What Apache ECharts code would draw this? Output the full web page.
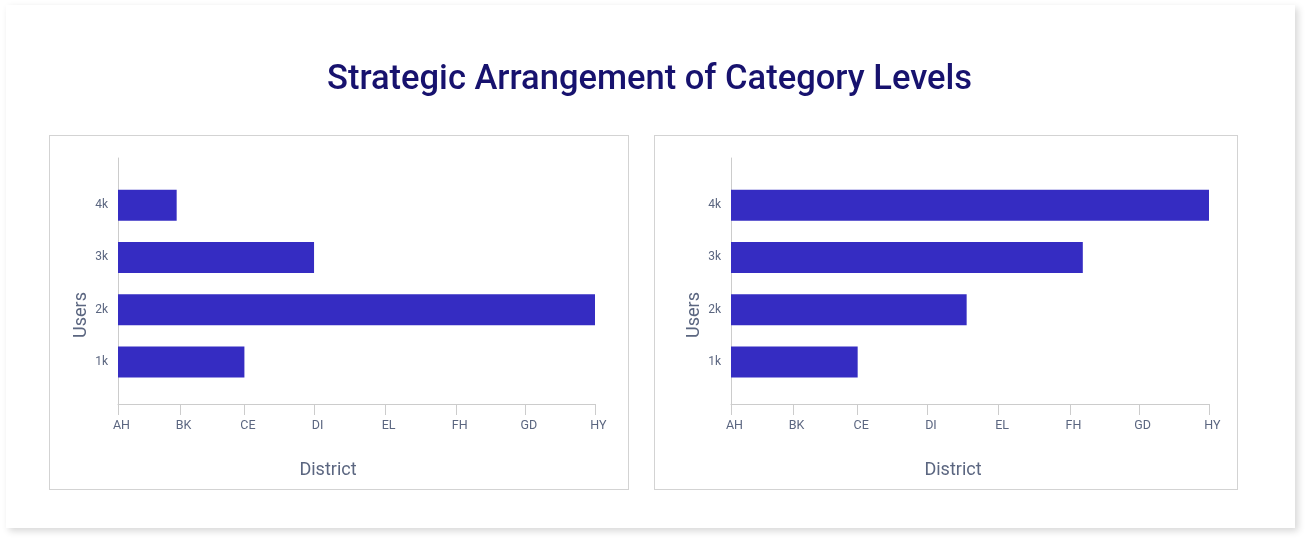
<!DOCTYPE html>
<html>
<head>
<meta charset="utf-8">
<script src="https://cdn.jsdelivr.net/npm/echarts@6/dist/echarts.min.js"></script>
<style>
  html, body { margin: 0; padding: 0; background: #ffffff; width: 1310px; height: 542px; overflow: hidden; }
  #card { position: absolute; left: 6px; top: 5px; width: 1289px; height: 523px; background: #fff;
          box-shadow: 3px 3px 7px rgba(0,0,0,0.16); }
  .panel { position: absolute; top: 135px; height: 355px; border: 1px solid #d3d3d3; box-sizing: border-box; }
  #chart { position: absolute; left: 0; top: 0; width: 1310px; height: 542px; }
</style>
</head>
<body>
<div id="card"></div>
<div class="panel" style="left:49px; width:580px;"></div>
<div class="panel" style="left:654px; width:584px;"></div>
<div id="chart"></div>
<script>
// ---- data ----
const titleText = 'Strategic Arrangement of Category Levels';
const districts = ['AH', 'BK', 'CE', 'DI', 'EL', 'FH', 'GD', 'HY'];
const districtPos = [0, 13, 26.5, 41.1, 56, 70.9, 85.4, 100];
const userLevels = ['1k', '2k', '3k', '4k'];
const leftValues = [26.5, 100, 41.1, 12.3];
const rightValues = [26.5, 49.3, 73.6, 100];
const xName = 'District';
const yName = 'Users';

// ---- styles ----
const barColor = '#352cc2';
const labelColor = '#5b6680';
const axisColor = '#cccccc';
const fontFamily = 'Roboto, "Noto Sans", sans-serif';

const chart = echarts.init(document.getElementById('chart'), null, { renderer: 'canvas' });

function labelFor(v) {
  const i = districtPos.findIndex(p => Math.abs(p - v) < 1e-6);
  return i >= 0 ? districts[i] : '';
}

const panels = [
  { left: 118, right: 715, values: leftValues, nameShift: 57 },
  { left: 731, right: 101, values: rightValues, nameShift: 34 }
];

const grids = [], xAxes = [], yAxes = [], series = [];
panels.forEach((p, k) => {
  grids.push({ left: p.left, right: p.right, top: 158, bottom: 138, containLabel: false });
  grids.push({ left: p.left, right: p.right, top: 179, bottom: 154, containLabel: false });
  const gFrame = k * 2, gBar = k * 2 + 1;
  xAxes.push({
    gridIndex: gFrame, type: 'value', min: 0, max: 100,
    axisLine: { show: true, lineStyle: { color: axisColor, width: 1 } },
    axisTick: { show: true, length: 11, lineStyle: { color: axisColor }, customValues: districtPos },
    axisLabel: { show: true, customValues: districtPos, formatter: labelFor, color: labelColor,
                 fontSize: 12.5, fontFamily: fontFamily, margin: 15, hideOverlap: false,
                 padding: [0, 0, 0, 7] },
    splitLine: { show: false },
    name: xName, nameLocation: 'middle', nameGap: 57,
    nameTextStyle: { color: labelColor, fontSize: 18, fontFamily: fontFamily, padding: [0, p.nameShift, 0, 0] }
  });
  yAxes.push({
    gridIndex: gFrame, type: 'value', min: 0, max: 1,
    axisLine: { show: true, lineStyle: { color: axisColor, width: 1 } },
    axisTick: { show: false }, axisLabel: { show: false }, splitLine: { show: false },
    name: yName, nameLocation: 'middle', nameGap: 28,
    nameTextStyle: { color: labelColor, fontSize: 18, fontFamily: fontFamily, padding: [0, 68, 0, 0] }
  });
  xAxes.push({ gridIndex: gBar, type: 'value', min: 0, max: 100, show: false });
  yAxes.push({
    gridIndex: gBar, type: 'category', data: userLevels,
    axisLine: { show: false }, axisTick: { show: false },
    axisLabel: { color: labelColor, fontSize: 12, fontFamily: fontFamily, margin: 10 },
    splitLine: { show: false }
  });
  series.push({
    type: 'bar', xAxisIndex: gBar, yAxisIndex: gBar, data: p.values,
    barWidth: 31, itemStyle: { color: barColor }, silent: true, animation: false
  });
});

chart.setOption({
  animation: false,
  title: {
    text: titleText, left: 322, top: 58,
    textStyle: { color: '#17126e', fontSize: 34.5, fontWeight: 500, fontFamily: fontFamily }
  },
  grid: grids, xAxis: xAxes, yAxis: yAxes, series: series
});
</script>
</body>
</html>
